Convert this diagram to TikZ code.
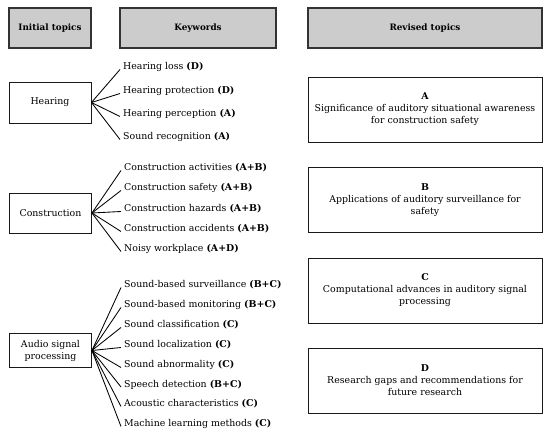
\documentclass[tikz,border=0pt]{standalone}
\usepackage{fontspec}
\setmainfont{DejaVu Serif}
\begin{document}
\begin{tikzpicture}[x=1pt,y=-1pt,
  every node/.style={font=\fontsize{9.4}{12}\selectfont, text=black},
  head/.style={draw=black!80, line width=1.1pt, fill=black!20, minimum height=40pt, inner sep=0pt, font=\fontsize{8.8}{11}\selectfont\bfseries},
  topic/.style={draw=black!90, line width=0.9pt, fill=white, minimum width=82pt, inner sep=0pt, align=center},
  kw/.style={anchor=west, inner sep=3pt},
  rev/.style={draw=black!90, line width=0.9pt, minimum width=234pt, minimum height=65pt, inner sep=0pt, align=center},
  fan/.style={draw=black, line width=0.85pt}]
\useasboundingbox (0,0) rectangle (550,433);
% headers
\node[head, minimum width=82pt] (h1) at (50,28) {Initial topics};
\node[head, minimum width=156pt] (h2) at (198,28) {Keywords};
\node[head, minimum width=234pt] (h3) at (425,28) {Revised topics};
% topics
\node[topic, minimum height=41pt] (hear) at (50,102.5) {Hearing};
\node[topic, minimum height=40pt] (cons) at (50.5,213) {Construction};
\node[topic, minimum height=34pt] (audio) at (50.5,350.5) {Audio signal\\processing};
% keywords hearing
\node[kw] (k1) at (120,67) {Hearing loss \textbf{(D)}};
\node[kw] (k2) at (120,91) {Hearing protection \textbf{(D)}};
\node[kw] (k3) at (120,114) {Hearing perception \textbf{(A)}};
\node[kw] (k4) at (120,137) {Sound recognition \textbf{(A)}};
% keywords construction
\node[kw] (c1) at (121,168) {Construction activities \textbf{(A+B)}};
\node[kw] (c2) at (121,188) {Construction safety \textbf{(A+B)}};
\node[kw] (c3) at (121,209) {Construction hazards \textbf{(A+B)}};
\node[kw] (c4) at (121,229) {Construction accidents \textbf{(A+B)}};
\node[kw] (c5) at (121,249) {Noisy workplace \textbf{(A+D)}};
% keywords audio
\node[kw] (a1) at (121,285) {Sound-based surveillance \textbf{(B+C)}};
\node[kw] (a2) at (121,305) {Sound-based monitoring \textbf{(B+C)}};
\node[kw] (a3) at (121,325) {Sound classification \textbf{(C)}};
\node[kw] (a4) at (121,345) {Sound localization \textbf{(C)}};
\node[kw] (a5) at (121,365) {Sound abnormality \textbf{(C)}};
\node[kw] (a6) at (121,384.5) {Speech detection \textbf{(B+C)}};
\node[kw] (a7) at (121,404) {Acoustic characteristics \textbf{(C)}};
\node[kw] (a8) at (121,424) {Machine learning methods \textbf{(C)}};
% fans
\foreach \k in {k1,k2,k3,k4} \draw[fan] (hear.east) -- ([yshift=-2.5pt]\k.west);
\foreach \k in {c1,c2,c3,c4,c5} \draw[fan] (cons.east) -- ([yshift=-2.5pt]\k.west);
\foreach \k in {a1,a2,a3,a4,a5,a6,a7,a8} \draw[fan] (audio.east) -- ([yshift=-2.5pt]\k.west);
% revised topics
\node[rev] (rA) at (425,109.5) {\textbf{A}\\Significance of auditory situational awareness\\for construction safety};
\node[rev] (rB) at (425,200) {\textbf{B}\\Applications of auditory surveillance for\\safety};
\node[rev] (rC) at (425,290.5) {\textbf{C}\\Computational advances in auditory signal\\processing};
\node[rev] (rD) at (425,380.5) {\textbf{D}\\Research gaps and recommendations for\\future research};
\end{tikzpicture}
\end{document}
